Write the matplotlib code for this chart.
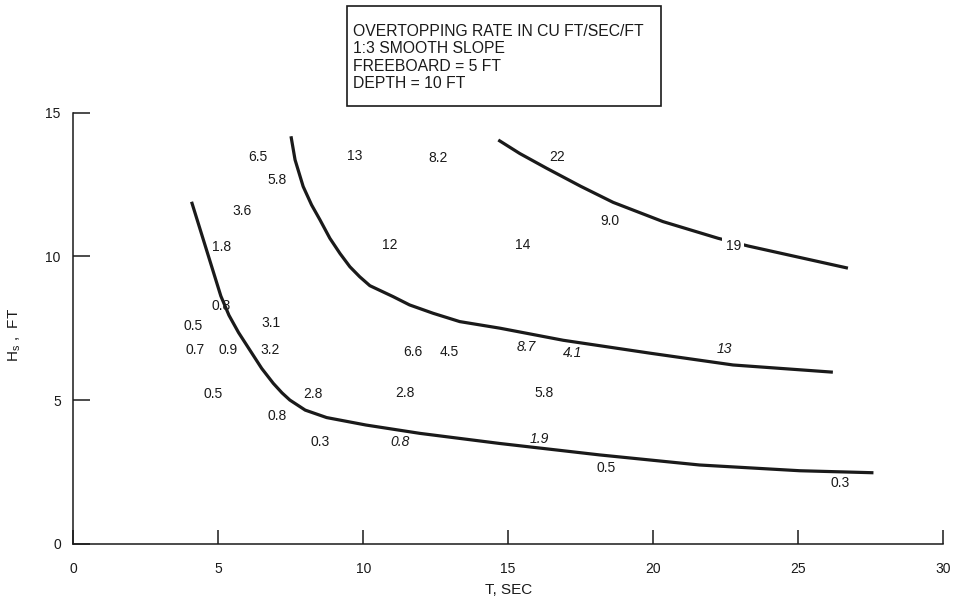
import matplotlib
matplotlib.use("Agg")
import matplotlib.pyplot as plt
from matplotlib.patches import Rectangle

plt.rcParams["font.family"] = ["Liberation Sans", "DejaVu Sans"]

# curves of equal overtopping rate (T in sec, Hs in ft)
low_T = [4.08, 5.09, 5.37, 5.7, 6.09, 6.5, 6.9, 7.2, 7.47, 8.0, 8.74, 10.1, 11.96, 14.7, 18.16, 21.6, 25.06, 27.6]
low_H = [11.9, 8.62, 7.95, 7.35, 6.74, 6.1, 5.58, 5.25, 5.0, 4.65, 4.39, 4.13, 3.84, 3.49, 3.09, 2.74, 2.54, 2.47]

mid_T = [7.51, 7.65, 7.93, 8.22, 8.51, 8.85, 9.2, 9.54, 9.88, 10.23, 11.03, 11.6, 12.41,
         13.33, 14.72, 16.9, 19.9, 22.76, 26.2]
mid_H = [14.18, 13.36, 12.43, 11.79, 11.27, 10.63, 10.1, 9.64, 9.29, 8.98, 8.6, 8.31, 8.02,
         7.73, 7.5, 7.08, 6.63, 6.22, 5.97]

top_T = [14.66, 15.4, 16.32, 17.5, 18.62, 20.34, 22.24, 23.28, 26.72]
top_H = [14.05, 13.58, 13.07, 12.44, 11.88, 11.21, 10.63, 10.36, 9.59]

# measured rates written on the chart
label_text = ["6.5", "5.8", "3.6", "1.8", "0.8", "0.5", "0.7", "0.9", "3.1", "3.2",
              "0.5", "2.8", "0.8", "0.3", "0.8", "13", "8.2", "12", "14", "22",
              "9.0", "19", "6.6", "4.5", "8.7", "4.1", "2.8", "5.8", "1.9", "13",
              "0.5", "0.3"]
label_T = [6.37, 7.02, 5.83, 5.12, 5.09, 4.14, 4.22, 5.34, 6.82, 6.78,
           4.83, 8.26, 7.03, 8.51, 11.27, 9.71, 12.57, 10.9, 15.5, 16.69,
           18.5, 22.76, 11.72, 12.97, 15.63, 17.24, 11.44, 16.23, 16.07, 22.47,
           18.39, 26.44]
label_H = [13.46, 12.66, 11.58, 10.34, 8.27, 7.58, 6.74, 6.74, 7.69, 6.74,
           5.2, 5.2, 4.46, 3.55, 3.55, 13.5, 13.41, 10.4, 10.4, 13.47,
           11.24, 10.36, 6.68, 6.68, 6.86, 6.63, 5.23, 5.23, 3.63, 6.78,
           2.62, 2.12]
italic_labels = {14, 24, 25, 28, 29}

box_lines = ["OVERTOPPING RATE IN CU FT/SEC/FT", "1:3 SMOOTH SLOPE",
             "FREEBOARD = 5 FT", "DEPTH = 10 FT"]

ink = "#1a1a1a"

fig = plt.figure(figsize=(9.54, 6.01), dpi=100)
ax = fig.add_axes([0.0768, 0.0953, 0.9117, 0.7172])

for T, H in [(low_T, low_H), (mid_T, mid_H), (top_T, top_H)]:
    ax.plot(T, H, color=ink, lw=2.3, solid_capstyle="butt", solid_joinstyle="round")

for i, (s, t, h) in enumerate(zip(label_text, label_T, label_H)):
    kw = {}
    if s == "19":
        kw["bbox"] = dict(facecolor="white", edgecolor="none", pad=2.5)
    ax.text(t, h, s, ha="center", va="center", fontsize=10, color=ink,
            style="italic" if i in italic_labels else "normal", zorder=3, **kw)

ax.set_xlim(0, 30)
ax.set_ylim(0, 15)
ax.set_xticks([0, 5, 10, 15, 20, 25, 30])
ax.set_yticks([0, 5, 10, 15])
ax.spines["top"].set_visible(False)
ax.spines["right"].set_visible(False)
for sp in ("left", "bottom"):
    ax.spines[sp].set_linewidth(1.1)
    ax.spines[sp].set_color(ink)
ax.tick_params(axis="x", direction="in", length=10, width=1.1, pad=13,
               labelsize=10, colors=ink)
ax.tick_params(axis="y", direction="in", length=12, width=1.1, pad=9,
               labelsize=10, colors=ink)
ax.set_xlabel("T, SEC", fontsize=11, color=ink, labelpad=5)
fig.text(15 / 954, 1 - 335 / 601, r"H$_\mathregular{s}$ ,  FT", rotation=90,
         ha="center", va="center", fontsize=11, color=ink)

# note box above the plot
fig.patches.append(Rectangle((346.7 / 954, 1 - 106 / 601), (661 - 346.7) / 954,
                             100.3 / 601, transform=fig.transFigure, fill=False,
                             edgecolor=ink, lw=1.2))
fig.text(353 / 954, 1 - 24 / 601, "\n".join(box_lines), ha="left", va="top",
         fontsize=11.3, color=ink, linespacing=1.19)

fig.savefig("out.png", dpi=100)
